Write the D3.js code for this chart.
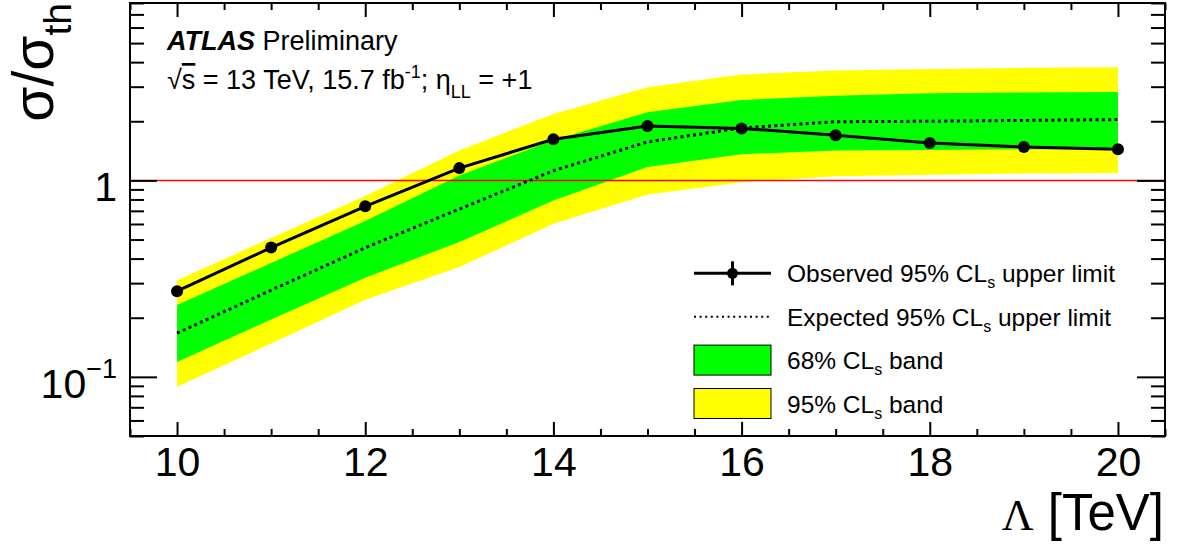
<!DOCTYPE html>
<html>
<head>
<meta charset="utf-8">
<script src="https://cdn.jsdelivr.net/npm/d3@7"></script>
<style>
  body { margin: 0; background: #fff; }
  svg text { font-family: "Liberation Sans", Arial, sans-serif; fill: #000; }
</style>
</head>
<body>
<div id="my_dataviz"></div>
<script>
// values
var lambda    = [10, 11, 12, 13, 14, 15, 16, 17, 18, 19, 20];
var observed  = [0.273, 0.455, 0.738, 1.155, 1.62, 1.89, 1.84, 1.70, 1.55, 1.48, 1.44];
var expected  = [0.167, 0.276, 0.454, 0.715, 1.12, 1.57, 1.85, 1.99, 2.00, 2.02, 2.04];
var band68Lo  = [0.119, 0.196, 0.320, 0.486, 0.79, 1.17, 1.36, 1.42, 1.43, 1.44, 1.44];
var band68Hi  = [0.232, 0.380, 0.621, 1.06, 1.60, 2.22, 2.57, 2.70, 2.78, 2.80, 2.82];
var band95Lo  = [0.089, 0.148, 0.247, 0.362, 0.602, 0.849, 0.98, 1.05, 1.07, 1.085, 1.09];
var band95Hi  = [0.310, 0.509, 0.832, 1.42, 2.18, 2.98, 3.46, 3.63, 3.69, 3.74, 3.77];

var xMajor = [10, 12, 14, 16, 18, 20];
var yMajor = [0.1, 1];
var legendLabels = ["Observed 95% CL", "Expected 95% CL", "68% CL", "95% CL"];
var legendTails  = [" upper limit", " upper limit", " band", " band"];

var W = 1180, H = 545;
var frame = {left: 130, right: 1165, top: 3, bottom: 436};

document.addEventListener('DOMContentLoaded', function () {

var svg = d3.select("#my_dataviz")
  .append("svg")
    .attr("width", W)
    .attr("height", H);

var x = d3.scaleLinear().domain([9.5, 20.5]).range([frame.left, frame.right]);
var y = d3.scaleLog().domain([0.05, 8]).range([frame.bottom, frame.top]);

var rows = lambda.map(function(l, i) {
  return {l: l, obs: observed[i], exp: expected[i],
          lo68: band68Lo[i], hi68: band68Hi[i], lo95: band95Lo[i], hi95: band95Hi[i]};
});

// bands
svg.append("path")
  .datum(rows)
  .attr("fill", "#ffff00")
  .attr("d", d3.area().x(function(d){ return x(d.l); })
    .y0(function(d){ return y(d.lo95); }).y1(function(d){ return y(d.hi95); }));

svg.append("path")
  .datum(rows)
  .attr("fill", "#00ff00")
  .attr("d", d3.area().x(function(d){ return x(d.l); })
    .y0(function(d){ return y(d.lo68); }).y1(function(d){ return y(d.hi68); }));

// red line at 1
svg.append("line")
  .attr("x1", frame.left).attr("x2", frame.right)
  .attr("y1", y(1)).attr("y2", y(1))
  .attr("stroke", "#ff0000").attr("stroke-width", 1.5);

// expected
svg.append("path")
  .datum(rows)
  .attr("fill", "none")
  .attr("stroke", "#000")
  .attr("stroke-width", 3)
  .attr("stroke-dasharray", "3,3.3")
  .attr("d", d3.line().x(function(d){ return x(d.l); }).y(function(d){ return y(d.exp); }));

// observed
svg.append("path")
  .datum(rows)
  .attr("fill", "none")
  .attr("stroke", "#000")
  .attr("stroke-width", 3)
  .attr("d", d3.line().x(function(d){ return x(d.l); }).y(function(d){ return y(d.obs); }));

svg.selectAll("circle.obs")
  .data(rows)
  .join("circle")
    .attr("class", "obs")
    .attr("cx", function(d){ return x(d.l); })
    .attr("cy", function(d){ return y(d.obs); })
    .attr("r", 6)
    .attr("fill", "#000");

// axes (ticks inside, mirrored on top and right)
var xMinor = d3.range(9.5, 20.51, 0.5).filter(function(v){ return xMajor.indexOf(v) < 0; });
var yMinor = [];
[0.01, 0.1, 1].forEach(function(dec) {
  for (var k = 2; k <= 9; k++) { var v = +(k*dec).toFixed(3); if (v >= 0.05 && v <= 8) yMinor.push(v); }
});

function styleAxis(g) {
  g.select(".domain").remove();
  g.selectAll("line").attr("stroke", "#000").attr("stroke-width", 2);
}

svg.append("g").attr("transform", `translate(0,${frame.bottom})`)
  .call(d3.axisBottom(x).tickValues(xMinor).tickSize(-7).tickFormat("")).call(styleAxis);
svg.append("g").attr("transform", `translate(0,${frame.bottom})`)
  .call(d3.axisBottom(x).tickValues(xMajor).tickSize(-14).tickPadding(8).tickFormat(d3.format("d")))
  .call(styleAxis)
  .call(function(g){ g.selectAll("text")
      .attr("y", 40).attr("dy", 0)
      .style("font-size", "41px")
      .style("font-family", "Liberation Sans, Arial, sans-serif"); });
svg.append("g").attr("transform", `translate(0,${frame.top})`)
  .call(d3.axisTop(x).tickValues(xMinor).tickSize(-7).tickFormat("")).call(styleAxis);
svg.append("g").attr("transform", `translate(0,${frame.top})`)
  .call(d3.axisTop(x).tickValues(xMajor).tickSize(-14).tickFormat("")).call(styleAxis);

svg.append("g").attr("transform", `translate(${frame.left},0)`)
  .call(d3.axisLeft(y).tickValues(yMinor).tickSize(-14).tickFormat("")).call(styleAxis);
svg.append("g").attr("transform", `translate(${frame.left},0)`)
  .call(d3.axisLeft(y).tickValues(yMajor).tickSize(-27).tickFormat("")).call(styleAxis);
svg.append("g").attr("transform", `translate(${frame.right},0)`)
  .call(d3.axisRight(y).tickValues(yMinor).tickSize(-14).tickFormat("")).call(styleAxis);
svg.append("g").attr("transform", `translate(${frame.right},0)`)
  .call(d3.axisRight(y).tickValues(yMajor).tickSize(-28).tickFormat("")).call(styleAxis);

// frame
svg.append("rect")
  .attr("x", frame.left).attr("y", frame.top)
  .attr("width", frame.right - frame.left).attr("height", frame.bottom - frame.top)
  .attr("fill", "none").attr("stroke", "#000").attr("stroke-width", 2);

// y tick labels
svg.append("text")
  .attr("x", 117).attr("y", y(1) + 20.5)
  .attr("text-anchor", "end").style("font-size", "41px")
  .text("1");
var lab = svg.append("text")
  .attr("x", 117).attr("y", y(0.1) + 21)
  .attr("text-anchor", "end").style("font-size", "41px");
lab.append("tspan").text("10");
lab.append("tspan").attr("dy", -20).style("font-size", "27px").text("\u22121");

// axis titles
var xt = svg.append("text")
  .attr("x", 1164).attr("y", 530)
  .attr("text-anchor", "end").style("font-size", "51px");
xt.append("tspan").style("font-family", "Liberation Serif, serif").style("font-size", "44px").text("\u039B");
xt.append("tspan").text(" [TeV]");

var yt = svg.append("text")
  .attr("transform", "translate(53,3) rotate(-90)")
  .attr("text-anchor", "end").style("font-size", "57px");
yt.append("tspan").text("\u03C3/\u03C3");
yt.append("tspan").attr("dy", 18).style("font-size", "39px").text("th");

// ATLAS label
var t1 = svg.append("text").attr("x", 167).attr("y", 50).style("font-size", "27px");
t1.append("tspan").style("font-weight", "bold").style("font-style", "italic").text("ATLAS");
t1.append("tspan").text(" Preliminary");

var t2 = svg.append("text").attr("x", 167).attr("y", 89).style("font-size", "27px");
t2.append("tspan").text("\u221A");
t2.append("tspan").style("text-decoration", "overline").text("s");
t2.append("tspan").text(" = 13 TeV, 15.7 fb");
t2.append("tspan").attr("dy", -11).style("font-size", "18px").text("-1");
t2.append("tspan").attr("dy", 11).text("; \u03B7");
t2.append("tspan").attr("dy", 9).style("font-size", "18px").text("LL");
t2.append("tspan").attr("dy", -9).text(" = +1");

// legend
var legX0 = 694, legX1 = 771, legText = 787;
var legRow = function(i){ return 273.3 + i * 43.4; };

var leg = svg.append("g");
// observed entry
leg.append("line").attr("x1", legX0).attr("x2", legX1).attr("y1", legRow(0)).attr("y2", legRow(0))
  .attr("stroke", "#000").attr("stroke-width", 3);
leg.append("line").attr("x1", (legX0+legX1)/2).attr("x2", (legX0+legX1)/2)
  .attr("y1", legRow(0) - 12).attr("y2", legRow(0) + 12)
  .attr("stroke", "#000").attr("stroke-width", 3);
leg.append("circle").attr("cx", (legX0+legX1)/2).attr("cy", legRow(0)).attr("r", 5.5).attr("fill", "#000");
// expected entry
leg.append("line").attr("x1", legX0).attr("x2", legX1).attr("y1", legRow(1)).attr("y2", legRow(1))
  .attr("stroke", "#000").attr("stroke-width", 2).attr("stroke-dasharray", "2,3.6");
// boxes
[["#00ff00", 2], ["#ffff00", 3]].forEach(function(b) {
  leg.append("rect").attr("x", legX0).attr("y", legRow(b[1]) - 15)
    .attr("width", legX1 - legX0).attr("height", 30)
    .attr("fill", b[0]).attr("stroke", "#000").attr("stroke-width", 1);
});

legendLabels.forEach(function(l, i) {
  var t = leg.append("text").attr("x", legText).attr("y", legRow(i) + 9).style("font-size", "24.5px");
  t.append("tspan").text(l);
  t.append("tspan").attr("dy", 6).style("font-size", "16px").text("s");
  t.append("tspan").attr("dy", -6).text(legendTails[i]);
});

});
</script>
</body>
</html>
